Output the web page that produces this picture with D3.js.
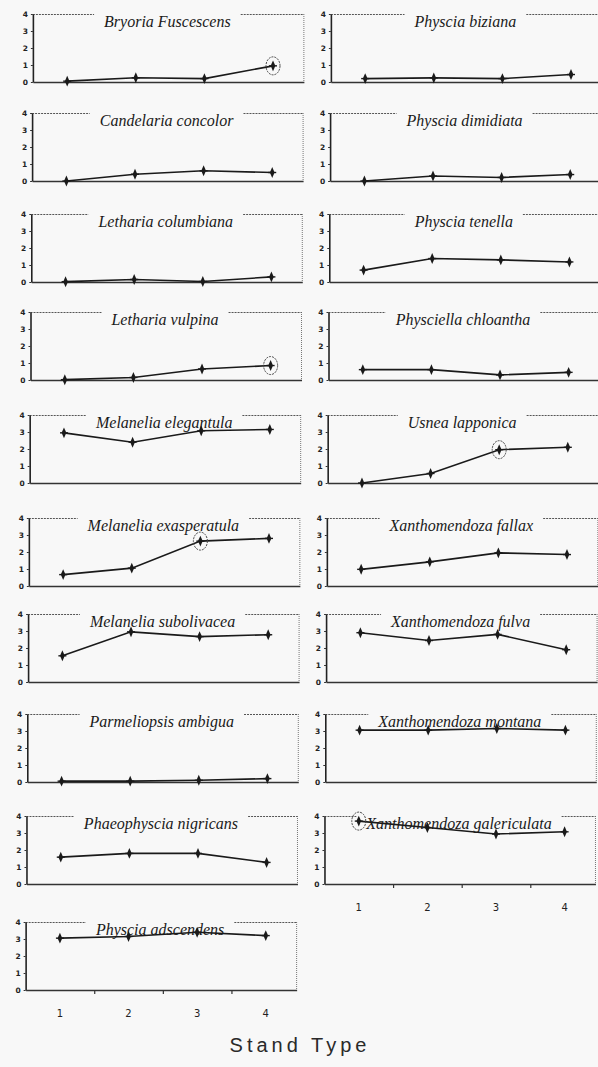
<!DOCTYPE html>
<html>
<head>
<meta charset="utf-8">
<script src="https://cdn.jsdelivr.net/npm/d3@7"></script>
<style>
  html, body { margin: 0; padding: 0; background: #f8f8f8; }
  svg { display: block; }
</style>
</head>
<body>
<svg id="chart" width="598" height="1067"></svg>
<script>
// Mean cover class per lichen species across the four stand types
const standTypes = [1, 2, 3, 4];
const yTicks = [0, 1, 2, 3, 4];

const leftSpecies = [
  "Bryoria Fuscescens", "Candelaria concolor", "Letharia columbiana",
  "Letharia vulpina", "Melanelia elegantula", "Melanelia exasperatula",
  "Melanelia subolivacea", "Parmeliopsis ambigua", "Phaeophyscia nigricans",
  "Physcia adscendens"
];
const leftValues = [
  [0.05, 0.25, 0.2, 0.95],
  [0.0, 0.4, 0.6, 0.5],
  [0.02, 0.15, 0.03, 0.3],
  [0.02, 0.15, 0.65, 0.85],
  [2.95, 2.4, 3.07, 3.15],
  [0.67, 1.05, 2.64, 2.8],
  [1.54, 2.95, 2.67, 2.78],
  [0.05, 0.05, 0.1, 0.2],
  [1.58, 1.8, 1.8, 1.27],
  [3.05, 3.15, 3.4, 3.2]
];
// stand type whose mean is ringed (null = none)
const leftHighlight = [4, null, null, 4, null, 3, null, null, null, null];

const rightSpecies = [
  "Physcia biziana", "Physcia dimidiata", "Physcia tenella",
  "Physciella chloantha", "Usnea lapponica", "Xanthomendoza fallax",
  "Xanthomendoza fulva", "Xanthomendoza montana", "Xanthomendoza galericulata"
];
const rightValues = [
  [0.2, 0.24, 0.2, 0.44],
  [0.0, 0.29, 0.21, 0.38],
  [0.7, 1.38, 1.3, 1.18],
  [0.61, 0.61, 0.3, 0.45],
  [0.0, 0.56, 1.96, 2.1],
  [0.98, 1.42, 1.95, 1.85],
  [2.9, 2.44, 2.8, 1.9],
  [3.05, 3.05, 3.15, 3.05],
  [3.7, 3.32, 2.94, 3.07]
];
const rightHighlight = [null, null, null, null, 3, null, null, null, 1];

// ---- layout ----
const rowTop = [14, 113, 214, 312, 415, 518, 614, 714, 816, 922];
const panelH = 68;
const panelW = 271;
const colAxisX = [33, 331];
const drift = -0.008;           // slight leftward drift of lower rows

const svg = d3.select("#chart");

const x = d3.scaleLinear().domain([0.5, 4.45]).range([0, panelW]);
const y = d3.scaleLinear().domain([0, 4]).range([panelH, 0]);

const line = d3.line().x((d, i) => x(standTypes[i])).y(d => y(d));
const marker = d3.symbol().type(d3.symbolDiamond).size(24);

function drawPanel(col, row, name, values, highlight, isLast) {
  const top = rowTop[row];
  const gx = colAxisX[col] + drift * top;
  const g = svg.append("g").attr("transform", `translate(${gx},${top})`);

  // right frame edge
  g.append("line")
    .attr("x1", panelW).attr("x2", panelW).attr("y1", 0).attr("y2", panelH)
    .attr("stroke", "#777").attr("stroke-width", 1).attr("stroke-dasharray", "1,1");

  // title sitting in the top frame edge
  const title = g.append("text")
    .attr("x", panelW / 2 - 1).attr("y", 13)
    .attr("text-anchor", "middle")
    .attr("font-family", "Liberation Serif, serif")
    .attr("font-style", "italic")
    .attr("font-size", 16)
    .attr("fill", "#1a1a1a")
    .text(name);
  const tw = title.node().getComputedTextLength();
  const tl = panelW / 2 - 1 - tw / 2 - 10;
  const tr = panelW / 2 - 1 + tw / 2 + 10;
  [[0, tl], [tr, panelW]].forEach(([a, b]) => {
    if (b > a) g.append("line")
      .attr("x1", a).attr("x2", b).attr("y1", 0.5).attr("y2", 0.5)
      .attr("stroke", "#555").attr("stroke-width", 1.2).attr("stroke-dasharray", "2,1");
  });

  // value axis
  const ya = g.append("g").call(
    d3.axisLeft(y).tickValues(yTicks).tickSize(2).tickSizeOuter(0).tickFormat(d3.format("d"))
  );
  ya.select(".domain").attr("stroke", "#222").attr("stroke-width", 1.6);
  ya.selectAll(".tick line").attr("stroke", "#333");
  ya.selectAll(".tick text")
    .attr("x", -5)
    .attr("font-family", "DejaVu Sans, sans-serif")
    .attr("font-weight", "bold")
    .attr("font-size", 7.5)
    .attr("fill", "#222");

  // category axis
  const xa = g.append("g").attr("transform", `translate(0,${panelH})`).call(
    d3.axisBottom(x).tickValues(isLast ? [1.5, 2.5, 3.5] : []).tickSize(4).tickSizeOuter(0).tickFormat("")
  );
  xa.select(".domain").attr("stroke", "#333").attr("stroke-width", 1.4);
  xa.selectAll(".tick line").attr("stroke", "#333").attr("stroke-width", 1.2);

  if (isLast) {
    g.append("g").selectAll("text").data(standTypes).join("text")
      .attr("x", d => x(d)).attr("y", panelH + 27)
      .attr("text-anchor", "middle")
      .attr("font-family", "DejaVu Sans, sans-serif")
      .attr("font-size", 10)
      .attr("fill", "#222")
      .text(d => d);
  }

  // series line and markers
  g.append("path").datum(values)
    .attr("d", line)
    .attr("fill", "none")
    .attr("stroke", "#1a1a1a")
    .attr("stroke-width", 1.6);

  const m = g.append("g").selectAll("g").data(values).join("g")
    .attr("transform", (d, i) => `translate(${x(standTypes[i])},${y(d)})`);
  m.append("path")
    .attr("d", marker)
    .attr("transform", "scale(0.9,1.2)")
    .attr("fill", "#1a1a1a");
  m.append("line")
    .attr("x1", -4).attr("x2", 4)
    .attr("stroke", "#1a1a1a").attr("stroke-width", 1.4);

  if (highlight != null) {
    const i = standTypes.indexOf(highlight);
    g.append("ellipse")
      .attr("cx", x(standTypes[i])).attr("cy", y(values[i]))
      .attr("rx", 7).attr("ry", 9)
      .attr("fill", "none")
      .attr("stroke", "#444").attr("stroke-width", 1)
      .attr("stroke-dasharray", "2,1");
  }
}

leftSpecies.forEach((n, r) =>
  drawPanel(0, r, n, leftValues[r], leftHighlight[r], r === leftSpecies.length - 1));
rightSpecies.forEach((n, r) =>
  drawPanel(1, r, n, rightValues[r], rightHighlight[r], r === rightSpecies.length - 1));

svg.append("text")
  .attr("x", 300).attr("y", 1052)
  .attr("text-anchor", "middle")
  .attr("font-family", "Liberation Sans, sans-serif")
  .attr("font-size", 20)
  .attr("letter-spacing", 4)
  .attr("fill", "#2a2a2a")
  .text("Stand Type");
</script>
</body>
</html>
